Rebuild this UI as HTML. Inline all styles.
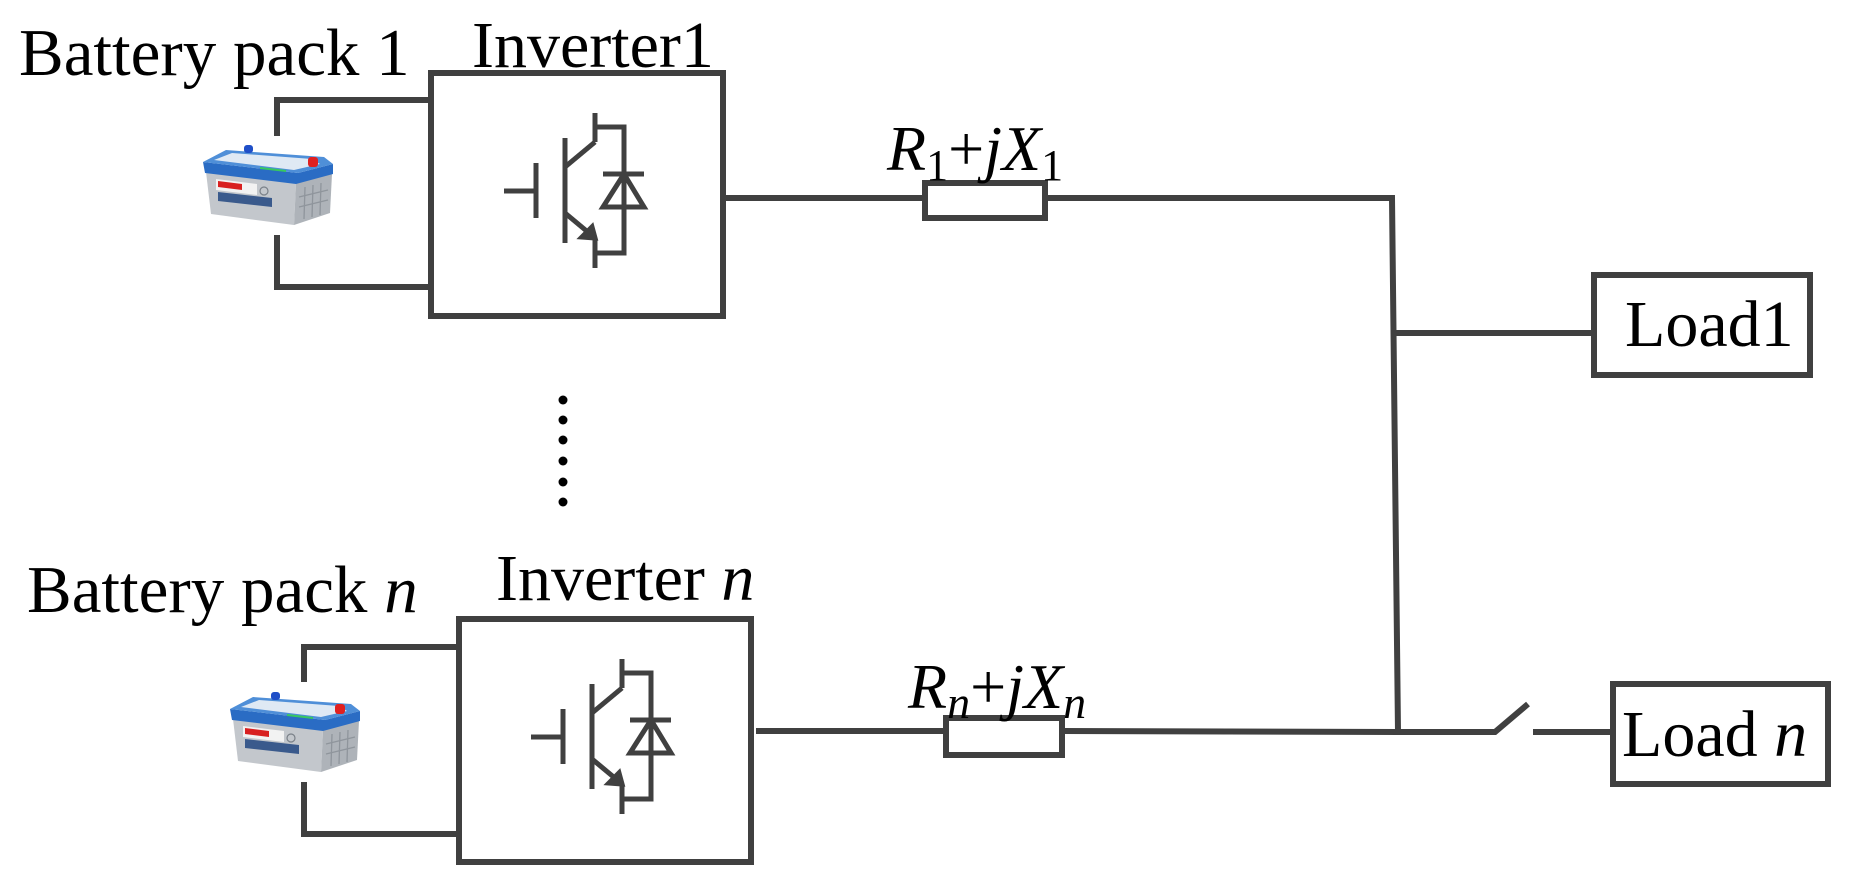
<!DOCTYPE html>
<html><head><meta charset="utf-8"><style>
html,body{margin:0;padding:0;background:#fff;}
svg{display:block;}
text{font-family:"Liberation Serif",serif;fill:#000;}
</style></head><body>
<svg width="1851" height="891" viewBox="0 0 1851 891" xmlns="http://www.w3.org/2000/svg">
<defs>
<g id="bat">
  <!-- body front -->
  <polygon points="4,27 94,38 92,80 9,69" fill="#c3c7cc"/>
  <!-- body side -->
  <polygon points="94,38 130,29 128,68 92,80" fill="#aeb3b9"/>
  <!-- lid front band -->
  <polygon points="1,17 96,28 131,19 131,29 94,39 3,28" fill="#2a6cc4"/>
  <!-- lid top -->
  <polygon points="1,17 24,5 122,12 131,19 96,28" fill="#4f8fd8"/>
  <polygon points="12,15 30,8 110,14 118,19 92,25" fill="#dfe9f4"/>
  <polygon points="58,22 84,25 84,27 58,24" fill="#38c860"/>
  <!-- terminals -->
  <rect x="42" y="0" width="9" height="8" rx="3" fill="#1f4fc8"/>
  <rect x="106" y="12" width="10" height="10" rx="3" fill="#e02020"/>
  <!-- label -->
  <polygon points="14,34 55,39 55,50 14,45" fill="#f2f2f2"/>
  <polygon points="16,36 40,39 40,45 16,42" fill="#d82020"/>
  <polygon points="16,47 70,53 70,62 16,56" fill="#3a5a8c"/>
  <circle cx="62" cy="46" r="4" fill="none" stroke="#7a8088" stroke-width="1.2"/>
  <g stroke="#8f959c" stroke-width="1.3">
    <line x1="103" y1="42" x2="102" y2="74"/><line x1="111" y1="40" x2="110" y2="72"/><line x1="119" y1="38" x2="118" y2="70"/>
    <line x1="97" y1="52" x2="126" y2="45"/><line x1="97" y1="62" x2="126" y2="55"/>
  </g>
</g>
<g id="igbt" fill="none" stroke="#404040" stroke-width="5">
  <line x1="504" y1="191" x2="537" y2="191"/>
  <line x1="536" y1="163" x2="536" y2="218"/>
  <line x1="565" y1="138" x2="565" y2="243"/>
  <line x1="565" y1="167" x2="595" y2="142"/>
  <line x1="595" y1="113" x2="595" y2="142"/>
  <polyline points="595,127 624,127 624,253 595,253"/>
  <line x1="565" y1="213" x2="595" y2="238"/>
  <line x1="595" y1="238" x2="595" y2="268"/>
  <line x1="603" y1="174" x2="644" y2="174"/>
  <polygon points="603,207 644,207 624,174"/>
  <polygon points="595,238 582,237 592,227" fill="#404040"/>
</g>
</defs>

<g fill="none" stroke="#404040" stroke-width="6">
  <rect x="431" y="73" width="292" height="243"/>
  <polyline points="431,100 277,100 277,136"/>
  <polyline points="277,235 277,287 431,287"/>
  <line x1="720" y1="198" x2="925" y2="198"/>
  <rect x="925" y="183" width="120" height="35"/>
  <polyline points="1045,198 1392,198 1398,732"/>
  <line x1="1392" y1="333" x2="1594" y2="333"/>
  <rect x="1594" y="275" width="216" height="100"/>
  <rect x="459" y="619" width="292" height="243"/>
  <polyline points="459,647 304,647 304,682"/>
  <polyline points="304,782 304,834 459,834"/>
  <line x1="756" y1="731" x2="946" y2="731"/>
  <rect x="946" y="718" width="116" height="37"/>
  <line x1="1062" y1="731" x2="1398" y2="732"/>
  <polyline points="1398,732 1495,732 1528,704"/>
  <line x1="1533" y1="732" x2="1613" y2="732"/>
  <rect x="1613" y="684" width="215" height="100"/>
</g>

<use href="#igbt"/>
<use href="#igbt" transform="translate(27,546)"/>

<use href="#bat" transform="translate(202,145)"/>
<use href="#bat" transform="translate(229,692)"/>

<g fill="#000">
  <circle cx="563" cy="400" r="4.5"/><circle cx="563" cy="420" r="4.5"/><circle cx="563" cy="440" r="4.5"/>
  <circle cx="563" cy="461" r="4.5"/><circle cx="563" cy="482" r="4.5"/><circle cx="563" cy="502" r="4.5"/>
</g>

<text x="19" y="75" font-size="67">Battery pack 1</text>
<text x="472" y="67" font-size="66">Inverter1</text>
<text x="27" y="612" font-size="67">Battery pack <tspan font-style="italic">n</tspan></text>
<text x="496" y="600" font-size="66">Inverter <tspan font-style="italic">n</tspan></text>
<text x="1625" y="346" font-size="66">Load1</text>
<text x="1622" y="756" font-size="66">Load <tspan font-style="italic">n</tspan></text>
<text x="887" y="170" font-size="64"><tspan font-style="italic">R</tspan><tspan font-size="44" dy="10">1</tspan><tspan dy="-10">+</tspan><tspan font-style="italic">jX</tspan><tspan font-size="44" dy="10">1</tspan></text>
<text x="908" y="708" font-size="64"><tspan font-style="italic">R</tspan><tspan font-size="46" dy="10" font-style="italic">n</tspan><tspan dy="-10">+</tspan><tspan font-style="italic">jX</tspan><tspan font-size="46" dy="10" font-style="italic">n</tspan></text>
</svg>
</body></html>
